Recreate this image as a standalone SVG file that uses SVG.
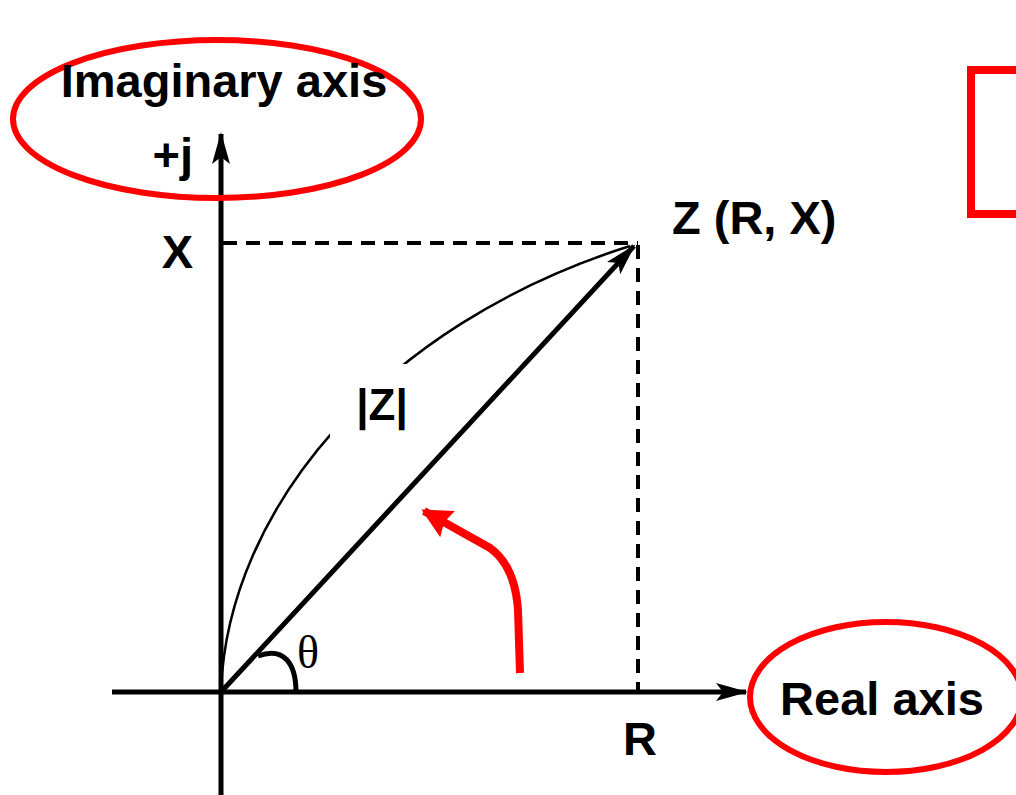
<svg xmlns="http://www.w3.org/2000/svg" width="1016" height="795" viewBox="0 0 1016 795">
  <style>
    .lbl { font-family: "Liberation Sans", Arial, sans-serif; font-weight: bold; font-size: 47px; fill: #000; }
    .axis { stroke: #000; stroke-width: 5; fill: none; }
    .dash { stroke: #000; stroke-width: 4; fill: none; stroke-dasharray: 14 9; }
    .red { stroke: #ff0000; fill: none; }
  </style>
  <defs>
    <marker id="ah" markerUnits="userSpaceOnUse" markerWidth="40" markerHeight="30" viewBox="-32 -15 36 30" refX="0" refY="0" orient="auto">
      <path d="M2,0 L-30,-9 L-23,0 L-30,9 Z" fill="#000"/>
    </marker>
    <marker id="ahr" markerUnits="userSpaceOnUse" markerWidth="44" markerHeight="40" viewBox="-38 -20 44 40" refX="0" refY="0" orient="auto">
      <path d="M3,0 L-27,-15 L-23,0 L-27,15 Z" fill="#ff0000"/>
    </marker>
    <mask id="gap">
      <rect x="0" y="0" width="1016" height="795" fill="#fff"/>
      <rect x="330" y="364" width="95" height="78" fill="#000"/>
    </mask>
  </defs>

  <rect width="1016" height="795" fill="#fff"/>

  <g id="connectors">
    <line class="axis" x1="221" y1="795" x2="221" y2="134" marker-end="url(#ah)"/>
    <line class="axis" x1="112" y1="692" x2="746" y2="692" marker-end="url(#ah)"/>
    <line class="dash" x1="223" y1="243" x2="638" y2="243"/>
    <line class="dash" x1="638" y1="245" x2="638" y2="690"/>
    <line class="axis" x1="221" y1="692" x2="634" y2="246" marker-end="url(#ah)"/>
    <path d="M221,690 C228,510 380,325 630,246" stroke="#000" stroke-width="2.5" fill="none" mask="url(#gap)"/>
    <path d="M258,656 C284,646 296,664 296,692" stroke="#000" stroke-width="5" fill="none"/>
    <path class="red" stroke-width="8" d="M520,673 L518,610 Q515,566 490,548 L424,511" marker-end="url(#ahr)"/>
  </g>

  <g id="imaginary-axis">
    <ellipse class="red" stroke-width="6" cx="217" cy="119" rx="204" ry="79"/>
    <text class="lbl" x="224" y="97" text-anchor="middle">Imaginary axis</text>
  </g>

  <g id="real-axis">
    <ellipse class="red" stroke-width="6" cx="886" cy="697" rx="136" ry="75"/>
    <text class="lbl" x="882" y="715" text-anchor="middle">Real axis</text>
  </g>

  <g id="red-box">
    <rect class="red" stroke-width="8" x="971" y="70" width="80" height="144"/>
  </g>

  <g id="labels">
    <text class="lbl" x="193" y="171" text-anchor="end">+j</text>
    <text class="lbl" x="193" y="268" text-anchor="end">X</text>
    <text class="lbl" x="672" y="234">Z (R, X)</text>
    <text class="lbl" x="640" y="755" text-anchor="middle">R</text>
    <text class="lbl" x="382" y="420" text-anchor="middle" style="font-size:44px">|Z|</text>
    <text x="297" y="668" style="font-family:'Liberation Serif','Times New Roman',serif;font-size:46px">θ</text>
  </g>
</svg>
